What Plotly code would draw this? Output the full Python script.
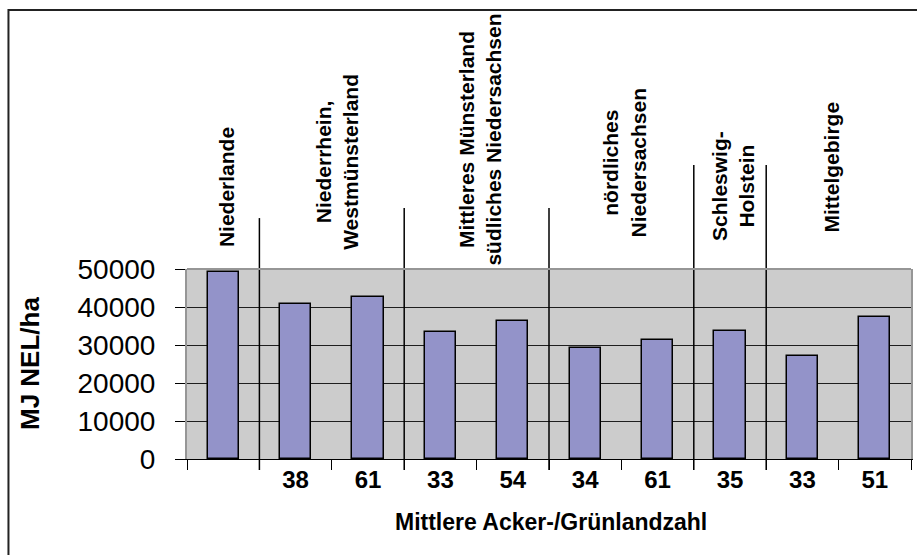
import plotly.graph_objects as go

# Regions and how many bars belong to each
regions = [
    "Niederlande",
    "Niederrhein,<br>Westmünsterland",
    "Mittleres Münsterland<br>südliches Niedersachsen",
    "nördliches<br>Niedersachsen",
    "Schleswig-<br>Holstein",
    "Mittelgebirge",
]
bars_per_region = [1, 2, 2, 2, 1, 2]

# Mittlere Acker-/Grünlandzahl per bar (first bar has none)
acker_labels = ["", "38", "61", "33", "54", "34", "61", "35", "33", "51"]

# Energy yield, MJ NEL/ha
nel_values = [49300, 40800, 42700, 33500, 36400, 29300, 31200, 33800, 27100, 37400]

FONT = "Liberation Sans, Arial, sans-serif"
x_idx = list(range(len(nel_values)))

fig = go.Figure(
    go.Bar(
        x=x_idx,
        y=nel_values,
        width=0.43,
        marker=dict(color="#9393C9", line=dict(color="black", width=1.5)),
        hoverinfo="y",
    )
)

# group boundaries and centres along the category axis
bounds, centres, start = [], [], 0
for n in bars_per_region:
    centres.append(start + (n - 1) / 2)
    start += n
    bounds.append(start - 0.5)
bounds = bounds[:-1]

# top end (paper units) of each divider line and label placement
divider_tops = [1.268, 1.321, 1.321, 1.547, 1.547]
label_y = [1.432, 1.563, 1.679, 1.558, 1.437, 1.537]
label_dx = [4, 5, 3, 3, 3, -7]

shapes = []
for b, top in zip(bounds, divider_tops):
    shapes.append(dict(type="line", xref="x", yref="paper", x0=b, x1=b,
                       y0=-0.058, y1=top, line=dict(color="black", width=1.5)))
# plot-area top edge
shapes.append(dict(type="line", xref="paper", yref="paper", x0=0, x1=1, y0=1, y1=1,
                   line=dict(color="#969696", width=2)))
# chart frame
shapes.append(dict(type="path", xref="paper", yref="paper",
                   path="M 1.01,2.363 L -0.2466,2.363 L -0.2466,-0.51",
                   line=dict(color="#222222", width=2)))

annotations = []
for name, cx, ly, dx in zip(regions, centres, label_y, label_dx):
    annotations.append(dict(
        text=name, x=cx, xref="x", y=ly, yref="paper", xshift=dx,
        xanchor="center", yanchor="middle", textangle=-90, showarrow=False,
        align="center", font=dict(family=FONT, size=21, color="black", weight="bold"),
    ))
annotations.append(dict(
    text="MJ NEL/ha", x=0, xref="paper", xshift=-157, y=0.5, yref="paper",
    xanchor="center", yanchor="middle", textangle=-90, showarrow=False,
    font=dict(family=FONT, size=26, color="black", weight="bold"),
))
annotations.append(dict(
    text="Mittlere Acker-/Grünlandzahl", x=0.5, xref="paper", xshift=2,
    y=0, yref="paper", yshift=-63, xanchor="center", yanchor="middle",
    showarrow=False, font=dict(family=FONT, size=23, color="black", weight="bold"),
))

fig.update_layout(
    width=917,
    height=555,
    margin=dict(l=187, r=4, t=269, b=96),
    paper_bgcolor="white",
    plot_bgcolor="#CCCCCC",
    showlegend=False,
    bargap=0,
    shapes=shapes,
    annotations=annotations,
    xaxis=dict(
        range=[-0.5, len(nel_values) - 0.5],
        tickmode="array",
        tickvals=x_idx,
        ticktext=acker_labels,
        ticks="",
        ticklabelstandoff=-1,
        tickfont=dict(family=FONT, size=24, color="black", weight="bold"),
        showline=True,
        linecolor="black",
        linewidth=1,
        showgrid=False,
        zeroline=False,
        minor=dict(
            tickmode="array",
            tickvals=[i - 0.5 for i in range(len(nel_values) + 1)],
            ticks="outside",
            ticklen=10,
            tickwidth=1,
            tickcolor="black",
            showgrid=False,
        ),
    ),
    yaxis=dict(
        range=[0, 50000],
        tickmode="linear",
        tick0=0,
        dtick=10000,
        tickformat="d",
        ticks="outside",
        ticklen=10,
        tickwidth=1,
        tickcolor="black",
        ticklabelstandoff=14,
        tickfont=dict(family=FONT, size=28, color="black"),
        showgrid=True,
        gridcolor="#1E1E1E",
        gridwidth=1,
        showline=True,
        linecolor="#969696",
        linewidth=2,
        mirror=True,
        zeroline=False,
    ),
)

fig.write_html("out.html")
